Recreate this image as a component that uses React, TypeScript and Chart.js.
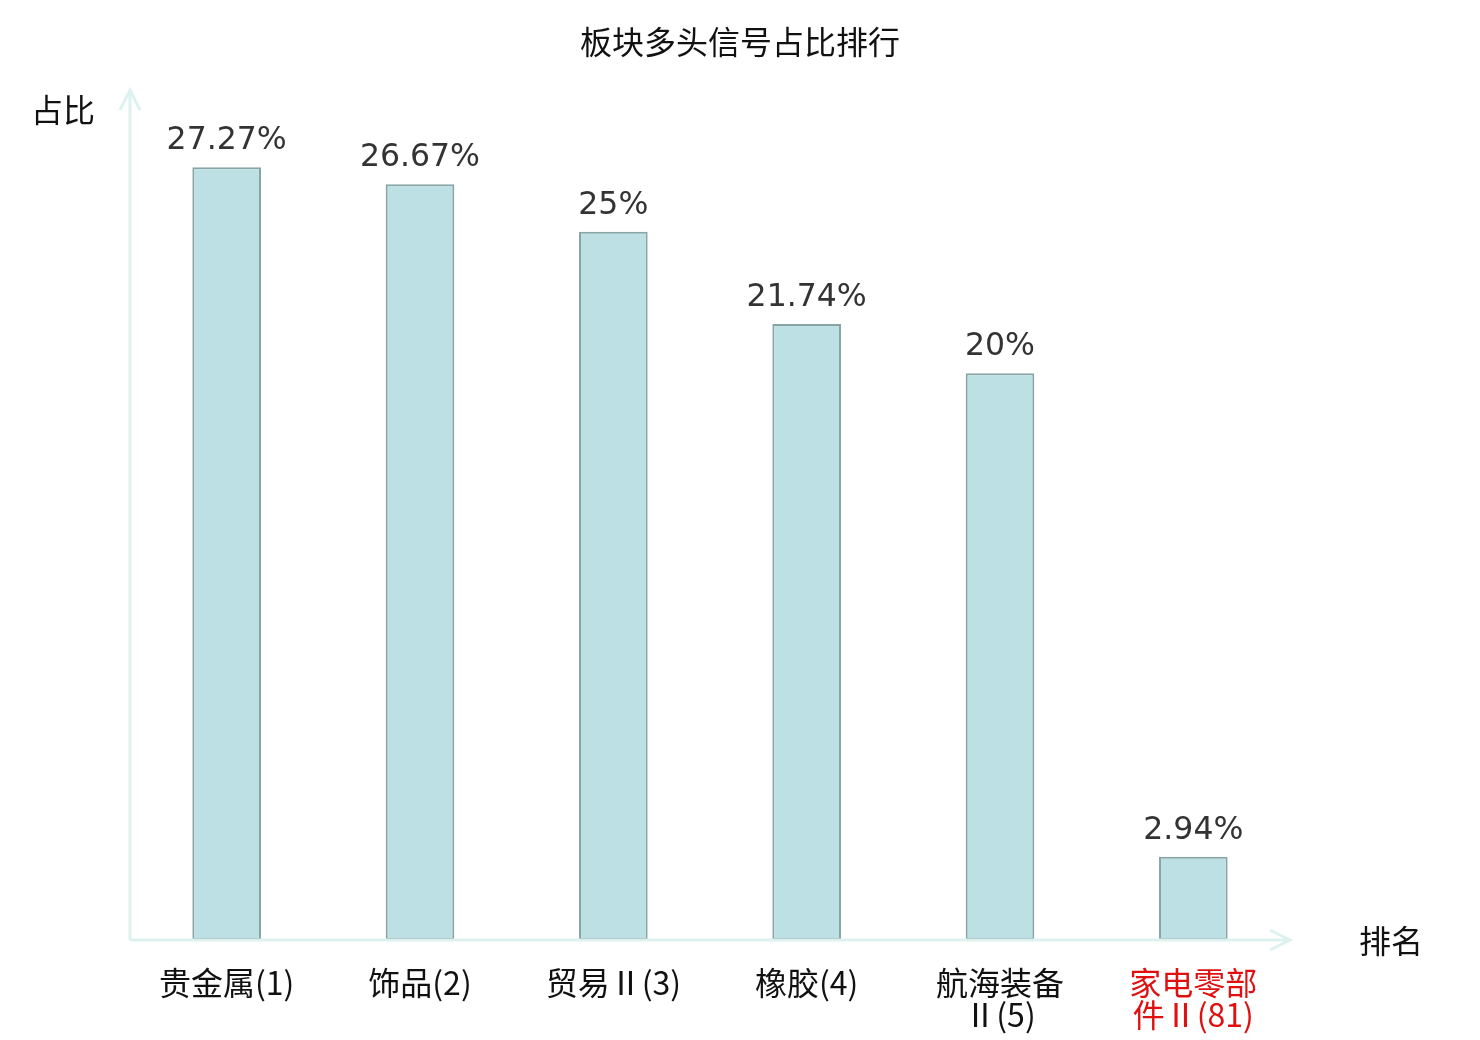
import React, { useEffect, useRef } from "react";
import { Chart, registerables } from "chart.js";

Chart.register(...registerables);

const categories = [
  ["贵金属(1)"],
  ["饰品(2)"],
  ["贸易Ⅱ(3)"],
  ["橡胶(4)"],
  ["航海装备", "Ⅱ(5)"],
  ["家电零部", "件Ⅱ(81)"],
];
const ratios = [27.27, 26.67, 25, 21.74, 20, 2.94];
const ratioLabels = ["27.27%", "26.67%", "25%", "21.74%", "20%", "2.94%"];
const highlightIndex = 5;

const axisColor = "#ddf2ef";

const decorPlugin = {
  id: "decor",
  afterDatasetsDraw(chart: any) {
    const { ctx, chartArea } = chart;
    const { left, right, top, bottom } = chartArea;
    ctx.save();

    // axes with arrows
    ctx.strokeStyle = axisColor;
    ctx.lineWidth = 3;
    ctx.lineCap = "butt";
    ctx.beginPath();
    ctx.moveTo(left, bottom);
    ctx.lineTo(right, bottom);
    ctx.moveTo(left, bottom);
    ctx.lineTo(left, top);
    ctx.stroke();
    ctx.beginPath();
    ctx.moveTo(right - 20, bottom - 10);
    ctx.lineTo(right, bottom);
    ctx.lineTo(right - 20, bottom + 10);
    ctx.moveTo(left - 10, top + 20);
    ctx.lineTo(left, top);
    ctx.lineTo(left + 10, top + 20);
    ctx.stroke();

    // value labels
    const meta = chart.getDatasetMeta(0);
    ctx.fillStyle = "#333333";
    ctx.font = "31.5px 'DejaVu Sans'";
    ctx.textAlign = "center";
    ctx.textBaseline = "alphabetic";
    meta.data.forEach((bar: any, i: number) => {
      ctx.fillText(ratioLabels[i], bar.x, bar.y - 18);
    });

    // title and axis names
    ctx.fillStyle = "#111111";
    ctx.font = "32px 'Noto Sans CJK SC'";
    ctx.textBaseline = "middle";
    ctx.fillText("板块多头信号占比排行", chart.width / 2, 42);
    ctx.fillText("占比", 63, 110);
    ctx.fillText("排名", 1391, 941);
    ctx.restore();
  },
};

const App = () => {
  const chartRef: any = useRef(null);
  const chartInstance: any = useRef(null);

  useEffect(() => {
    if (chartRef.current) {
      const ctx = chartRef.current.getContext("2d");
      chartInstance.current = new Chart(ctx, {
        type: "bar",
        data: {
          labels: categories,
          datasets: [
            {
              label: "占比",
              data: ratios,
              backgroundColor: "#bce0e3",
              borderColor: "#88a4a4",
              borderWidth: 2,
              borderSkipped: false,
              categoryPercentage: 1,
              barPercentage: 0.355,
            },
          ],
        },
        options: {
          responsive: true,
          maintainAspectRatio: false,
          animation: false,
          layout: {
            padding: { left: 130, right: 190, top: 90, bottom: 0 },
          },
          plugins: {
            legend: { display: false },
            tooltip: { enabled: false },
            title: { display: false },
          },
          scales: {
            x: {
              grid: { display: false, drawTicks: false },
              border: { display: false },
              afterFit: (scale: any) => {
                scale.height = 100;
              },
              ticks: {
                padding: 27,
                maxRotation: 0,
                autoSkip: false,
                font: { family: "'Noto Sans CJK SC'", size: 32, lineHeight: 1.0 },
                color: (c: any) => (c.index === highlightIndex ? "#e01010" : "#111111"),
              },
            },
            y: {
              display: false,
              min: 0,
              max: 30,
            },
          },
        },
        plugins: [decorPlugin],
      });
    }

    return () => {
      if (chartInstance.current) {
        chartInstance.current.destroy();
      }
    };
  }, []);

  return (
    <div
      style={{
        position: "absolute",
        top: 0,
        left: 0,
        width: 1480,
        height: 1040,
        background: "#ffffff",
      }}
    >
      <canvas ref={chartRef}></canvas>
    </div>
  );
};

export default App;
